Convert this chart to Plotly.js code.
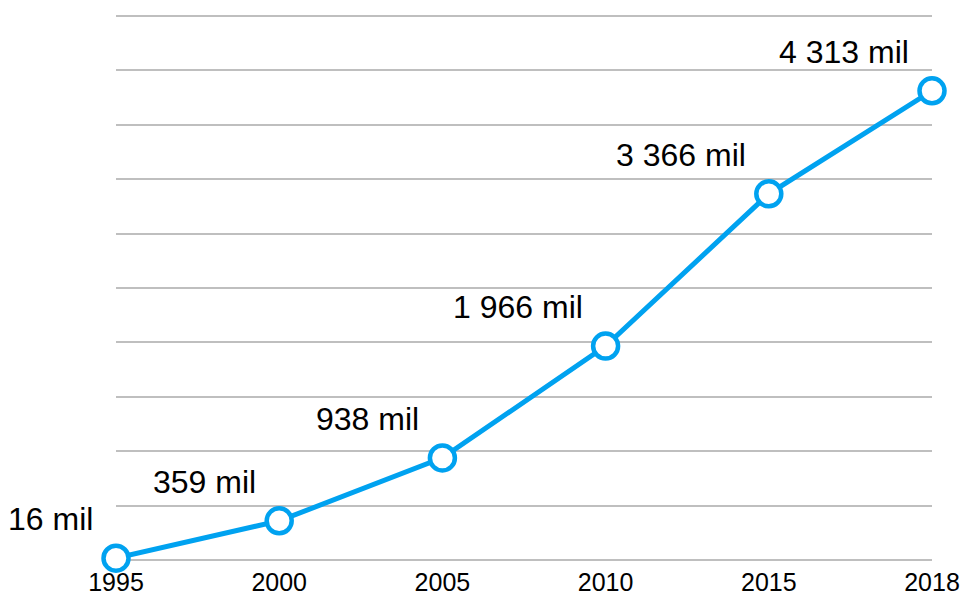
<!DOCTYPE html>
<html>
<head>
<meta charset="utf-8">
<script src="https://cdn.plot.ly/plotly-3.0.1.min.js"></script>
<style>html,body{margin:0;padding:0;background:#fff;}#chart{width:965px;height:597px;}</style>
</head>
<body>
<div id="chart"></div>
<script>
const years = ["1995", "2000", "2005", "2010", "2015", "2018"];
const values = [16, 359, 938, 1966, 3366, 4313];
const valueLabels = ["16 mil", "359 mil", "938 mil", "1 966 mil", "3 366 mil", "4 313 mil"];

const idx = years.map((_, i) => i);
const font = "Arial, 'Liberation Sans', sans-serif";

const trace = {
  x: idx,
  y: values,
  type: "scatter",
  mode: "lines+markers",
  line: {color: "#00a2f0", width: 5},
  marker: {size: 25, color: "#ffffff", line: {color: "#00a2f0", width: 4.5}},
  cliponaxis: false,
  hoverinfo: "skip"
};

const annotations = idx.map(i => ({
  x: i, y: values[i], xref: "x", yref: "y",
  text: valueLabels[i], showarrow: false,
  xanchor: "right", yanchor: "middle",
  xshift: -21, yshift: 39,
  font: {family: font, size: 32, color: "#000000"}
}));

const layout = {
  width: 965, height: 597,
  margin: {l: 116, r: 33, t: 15, b: 36, pad: 0},
  paper_bgcolor: "#ffffff", plot_bgcolor: "#ffffff",
  showlegend: false,
  xaxis: {
    range: [0, 5], tickvals: idx, ticktext: years,
    showgrid: false, zeroline: false, showline: false,
    ticks: "", ticklabelstandoff: 4,
    tickfont: {family: font, size: 25, color: "#000000"},
    fixedrange: true
  },
  yaxis: {
    range: [-10, 5010], dtick: 500, tick0: 0,
    showgrid: true, gridcolor: "#bfbfbf", gridwidth: 2,
    zeroline: false, showline: false, showticklabels: false, ticks: "",
    fixedrange: true
  },
  annotations: annotations
};

Plotly.newPlot("chart", [trace], layout, {displayModeBar: false, staticPlot: true});
</script>
</body>
</html>
